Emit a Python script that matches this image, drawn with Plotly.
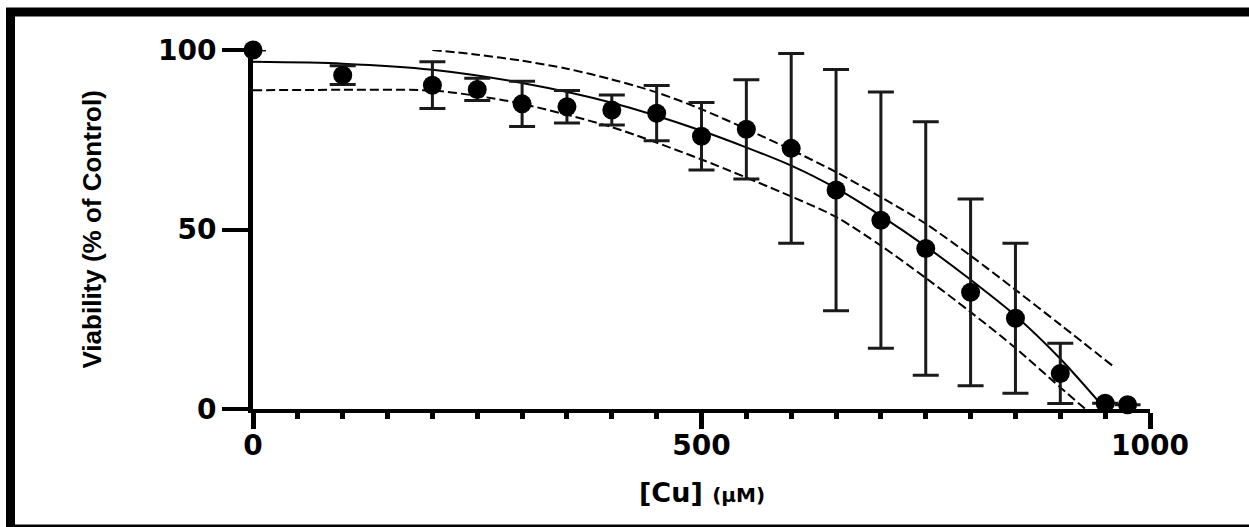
import plotly.graph_objects as go

# Copper concentration (µM) vs. cell viability (% of control), mean ± SD
conc = [0, 100, 200, 250, 300, 350, 400, 450, 500, 550, 600, 650, 700, 750, 800, 850, 900, 950, 975]
viability = [100, 93.0, 90.2, 89.0, 85.0, 84.2, 83.3, 82.4, 76.0, 77.9, 72.6, 61.0, 52.6, 44.7, 32.5, 25.3, 9.9, 1.6, 1.2]
sd = [0, 2.6, 6.5, 3.1, 6.3, 4.5, 4.2, 7.7, 9.4, 13.8, 26.4, 33.6, 35.7, 35.3, 26.0, 20.9, 8.4, 0, 0]

# Fitted curve
fit_x = [0, 100, 200, 300, 400, 500, 600, 650, 700, 750, 800, 850, 900, 950]
fit_y = [96.7, 96.2, 94.5, 90.8, 85.3, 77.5, 67.8, 61.5, 53.8, 45.3, 36.0, 26.0, 14.0, 0.0]

# Confidence band of the fit (lower / upper)
band_lo_x = [0, 100, 200, 250, 300, 400, 500, 600, 650, 700, 750, 800, 850, 900, 928]
band_lo_y = [88.8, 88.9, 88.7, 87.2, 85.0, 78.5, 69.5, 59.2, 53.5, 45.5, 36.5, 27.0, 17.0, 6.0, 0.0]
band_hi_x = [200, 250, 300, 350, 400, 450, 500, 550, 600, 650, 700, 750, 800, 850, 900, 960]
band_hi_y = [100, 98.7, 97.0, 94.8, 91.8, 88.2, 83.5, 78.0, 72.2, 66.0, 59.0, 51.6, 42.7, 33.2, 23.5, 11.7]

x_ticks = [0, 500, 1000]
y_ticks = [0, 50, 100]

# Canvas and plot-area geometry (pixels)
W, H = 1249, 527
L, R, T, B = 253, 99, 50, 118
PW, PH = W - L - R, H - T - B


def paper_x(px):
    return (px - L) / PW


def paper_y(py):
    return (H - B - py) / PH


BOLD = "DejaVu Sans"

fig = go.Figure()

fig.add_trace(go.Scatter(
    x=fit_x, y=fit_y, mode="lines",
    line=dict(color="black", width=2, shape="spline", smoothing=0.8),
    hoverinfo="skip", showlegend=False,
))
fig.add_trace(go.Scatter(
    x=band_lo_x, y=band_lo_y, mode="lines",
    line=dict(color="black", width=2, dash="9px,4px", shape="spline", smoothing=0.8),
    hoverinfo="skip", showlegend=False,
))
fig.add_trace(go.Scatter(
    x=band_hi_x, y=band_hi_y, mode="lines",
    line=dict(color="black", width=2, dash="9px,4px", shape="spline", smoothing=0.8),
    hoverinfo="skip", showlegend=False,
))
fig.add_trace(go.Scatter(
    x=conc, y=viability, mode="markers",
    marker=dict(color="black", size=19, symbol="circle"),
    error_y=dict(type="data", array=sd, visible=True, color="#1a1a1a",
                 thickness=3, width=13),
    cliponaxis=False, showlegend=False,
))

fig.update_xaxes(
    range=[0, 1000], tickmode="array", tickvals=x_ticks,
    ticks="outside", ticklen=16, tickwidth=5, tickcolor="black",
    showline=True, linecolor="black", linewidth=3.5,
    showgrid=False, zeroline=False, ticklabelstandoff=-7,
    tickfont=dict(family=BOLD, size=28, color="black", weight="bold"),
    minor=dict(dtick=50, tick0=0, ticks="outside", ticklen=6, tickwidth=4.5,
               tickcolor="black", showgrid=False),
)
fig.update_yaxes(
    range=[0, 100], tickmode="array", tickvals=y_ticks,
    ticks="outside", ticklen=26, tickwidth=3.5, tickcolor="black",
    showline=True, linecolor="black", linewidth=5,
    showgrid=False, zeroline=False,
    tickfont=dict(family=BOLD, size=28, color="black", weight="bold"),
)

fig.add_annotation(
    text="[Cu] <span style='font-size:20px'>(μM)</span>",
    xref="paper", yref="paper", x=0.5, y=paper_y(492),
    xanchor="center", yanchor="middle", showarrow=False,
    font=dict(family=BOLD, size=27, color="black", weight="bold"),
)
fig.add_annotation(
    text="Viability (% of Control)",
    xref="paper", yref="paper", x=paper_x(91), y=0.5,
    xanchor="center", yanchor="middle", showarrow=False, textangle=-90,
    font=dict(family="Liberation Sans", size=26, color="black", weight="bold"),
)

# Outer frame
fig.add_shape(
    type="rect", xref="paper", yref="paper",
    x0=paper_x(10.5), x1=paper_x(1262), y0=paper_y(529), y1=paper_y(12),
    line=dict(color="black", width=9), fillcolor="rgba(0,0,0,0)", layer="above",
)

fig.update_layout(
    width=W, height=H, autosize=False,
    margin=dict(l=L, r=R, t=T, b=B, pad=0),
    paper_bgcolor="white", plot_bgcolor="white",
    showlegend=False,
)

fig.write_html("out.html")
